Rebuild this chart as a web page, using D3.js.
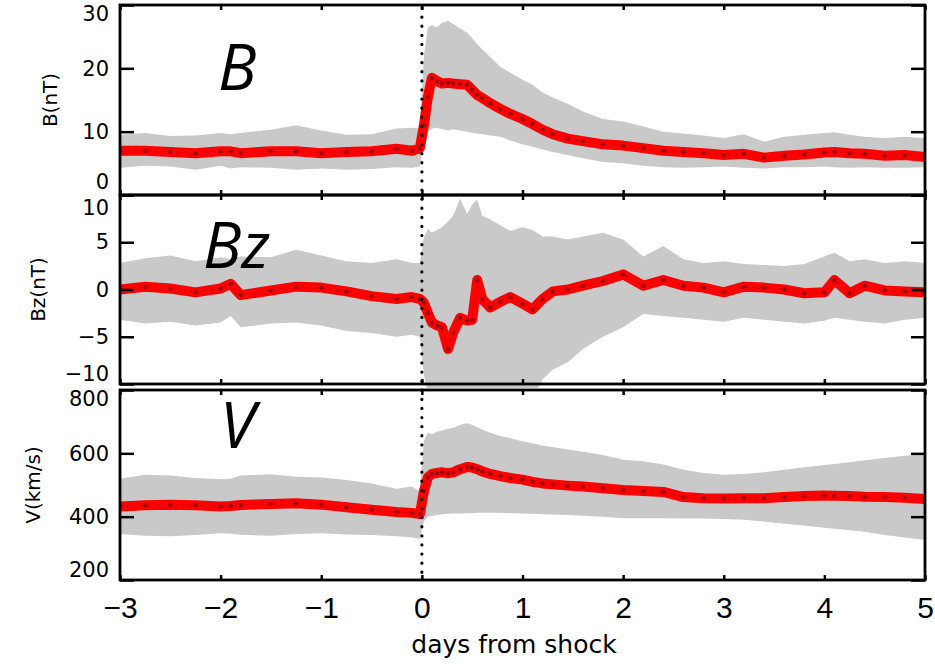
<!DOCTYPE html>
<html>
<head>
<meta charset="utf-8">
<script src="https://cdn.jsdelivr.net/npm/d3@7"></script>
<style>
  body { margin: 0; background: #fff; }
  .ylab text { font-family: 'DejaVu Sans', sans-serif; font-size: 21px; fill: #000; }
  .xlab text { font-family: 'Liberation Sans', Arial, sans-serif; font-size: 30px; fill: #000; }
  .tick line { stroke: #000; stroke-width: 2.5; }
</style>
</head>
<body>
<div class="chart"></div>
<script>
const width = 935;
const height = 664;

// days from shock (sampled denser around the shock)
const days = [-3, -2.75, -2.5, -2.25, -2, -1.9, -1.8, -1.5, -1.25, -1, -0.75, -0.5, -0.25, -0.1, -0.02,
  0.02, 0.06, 0.1, 0.15, 0.2, 0.26, 0.31, 0.38, 0.45, 0.5, 0.55, 0.6, 0.68, 0.78, 0.88,
  1.0, 1.1, 1.2, 1.3, 1.45, 1.6, 1.8, 2.0, 2.2, 2.4, 2.6, 2.8, 3.0, 3.2, 3.4, 3.6, 3.8,
  4.0, 4.1, 4.25, 4.4, 4.6, 4.8, 5.0];

// B (nT)
const bMean = [7.0, 7.0, 6.8, 6.6, 6.9, 6.9, 6.6, 6.9, 6.9, 6.6, 6.8, 6.9, 7.3, 7.0, 7.4,
  11.0, 15.5, 18.5, 18.0, 17.6, 17.7, 17.6, 17.5, 17.4, 16.6, 15.8, 15.3, 14.5, 13.6, 12.8,
  12.0, 11.2, 10.3, 9.6, 8.9, 8.5, 8.0, 7.8, 7.4, 7.0, 6.8, 6.6, 6.3, 6.5, 5.9, 6.2, 6.4,
  6.7, 6.8, 6.6, 6.5, 6.2, 6.3, 6.0];
const bHi = [9.5, 9.8, 9.3, 9.4, 9.8, 9.6, 9.8, 10.3, 11.0, 10.2, 9.5, 9.6, 10.5, 10.6, 10.5,
  22.0, 26.5, 26.8, 26.5, 27.2, 27.5, 27.0, 26.3, 25.6, 24.8, 23.8, 23.0, 21.8, 20.2, 19.3,
  18.2, 17.4, 16.2, 15.4, 14.4, 13.2, 12.0, 11.6, 10.8, 10.0, 9.7, 9.4, 9.0, 9.6, 8.4, 9.2, 9.5,
  9.8, 9.9, 9.5, 9.2, 9.0, 9.2, 9.0];
const bLo = [4.3, 4.6, 4.5, 4.0, 4.6, 4.2, 4.4, 4.3, 4.0, 4.2, 4.0, 4.1, 4.4, 4.3, 4.5,
  9.0, 10.0, 10.5, 10.6, 10.4, 10.2, 10.4, 10.2, 10.0, 9.8, 9.7, 9.6, 9.4, 9.2, 8.6,
  8.0, 7.6, 7.2, 6.8, 6.3, 5.8, 5.2, 5.0, 4.6, 4.4, 4.3, 4.4, 4.5, 4.3, 4.2, 4.4, 4.4,
  4.5, 4.4, 4.3, 4.4, 4.3, 4.3, 4.4];

// Bz (nT)
const bzMean = [0.0, 0.3, 0.1, -0.3, 0.1, 0.6, -0.6, -0.1, 0.3, 0.2, -0.2, -0.7, -1.0, -0.8, -1.0,
  -1.4, -2.5, -3.5, -3.8, -4.0, -6.3, -4.6, -3.0, -3.3, -3.2, 1.0, -1.0, -1.9, -1.3, -0.8,
  -1.5, -2.1, -1.0, -0.2, 0.0, 0.4, 0.9, 1.6, 0.4, 1.0, 0.4, 0.2, -0.3, 0.3, 0.2, 0.0, -0.4,
  -0.3, 1.0, -0.4, 0.4, -0.1, -0.2, -0.3];
const bzHi = [2.8, 3.3, 3.6, 3.0, 3.4, 3.2, 3.5, 3.4, 4.2, 3.6, 3.0, 2.8, 3.2, 2.8, 2.8,
  5.5, 6.4, 6.0, 6.3, 6.6, 7.2, 7.8, 9.6, 8.0, 9.0, 9.5, 7.8, 7.4, 6.8, 6.2,
  6.6, 6.3, 5.6, 5.6, 5.3, 5.6, 6.0, 5.3, 3.5, 4.6, 3.2, 2.8, 3.0, 2.7, 2.6, 2.5, 2.7,
  3.5, 3.9, 3.0, 3.2, 2.8, 3.0, 2.8];
const bzLo = [-3.2, -3.6, -3.4, -3.8, -3.5, -2.8, -4.0, -3.6, -3.5, -3.8, -4.4, -4.6, -5.0, -4.8, -5.0,
  -9.0, -11.0, -12.0, -12.0, -12.0, -12.0, -12.0, -12.0, -12.0, -12.0, -12.0, -12.0, -12.0, -12.0, -12.0,
  -12.0, -11.5, -9.5, -8.5, -7.7, -6.3, -5.0, -4.0, -2.6, -2.8, -3.0, -3.2, -3.4, -3.0, -3.2, -3.4, -3.6,
  -3.3, -3.0, -3.2, -3.4, -3.6, -3.2, -3.0];

// V (km/s)
const vMean = [432, 436, 438, 436, 432, 434, 437, 440, 442, 438, 430, 422, 415, 412, 408,
  480, 525, 535, 538, 540, 537, 540, 550, 557, 555, 550, 543, 535, 528, 522,
  517, 510, 505, 502, 498, 495, 490, 484, 481, 478, 462, 458, 457, 458, 458, 462, 465,
  467, 466, 465, 463, 462, 460, 456];
const vHi = [520, 532, 530, 522, 518, 520, 530, 534, 526, 524, 516, 505, 488, 495, 480,
  640, 665, 660, 668, 672, 678, 680, 690, 695, 690, 682, 675, 665, 655, 648,
  638, 632, 625, 620, 612, 605, 595, 580, 575, 565, 548, 538, 532, 535, 540, 548, 556,
  563, 566, 572, 578, 585, 592, 598];
const vLo = [345, 340, 338, 342, 348, 346, 343, 340, 345, 348, 344, 342, 338, 334, 330,
  385, 400, 402, 405, 408, 409, 410, 410, 411, 411, 412, 412, 412, 412, 411,
  410, 409, 408, 407, 405, 403, 400, 395, 395, 395, 394, 394, 393, 390, 385, 378, 372,
  365, 362, 357, 352, 342, 334, 326];

// tick labels
const dayTicks = [-3, -2, -1, 0, 1, 2, 3, 4, 5];
const bTicks = [0, 10, 20, 30];
const bzTicks = [-10, -5, 0, 5, 10];
const vTicks = [200, 400, 600, 800];

const svg = d3.select('.chart').append('svg')
    .attr('width', width)
    .attr('height', height)
    .attr('viewBox', `0 0 ${width} ${height}`);

const xScale = d3.scaleLinear().domain([-3, 5]).range([120, 925]);

// topDy / botDy: shift of the end labels so they sit inside their panel
const panels = [
  { id: 'b', title: 'B(nT)', tag: 'B', mean: bMean, hi: bHi, lo: bLo, ticks: bTicks,
    domain: [0, 30], top: 5, bottom: 195, titleX: 50, tagX: 218, tagY: 90, topDy: 0.76, botDy: -0.3 },
  { id: 'bz', title: 'Bz(nT)', tag: 'Bz', mean: bzMean, hi: bzHi, lo: bzLo, ticks: bzTicks,
    domain: [-10, 10], top: 195, bottom: 384, titleX: 38, tagX: 203, tagY: 268, topDy: 0.92, botDy: -0.16 },
  { id: 'v', title: 'V(km/s)', tag: 'V', mean: vMean, hi: vHi, lo: vLo, ticks: vTicks,
    domain: [200, 800], top: 390, bottom: 580, titleX: 33, tagX: 220, tagY: 448, topDy: 0.76, botDy: -0.16 }
];

panels.forEach((p, n) => {
  const yScale = d3.scaleLinear().domain(p.domain).range([p.bottom, p.top]);
  const x0 = xScale.range()[0], x1 = xScale.range()[1];

  /* clip so the band stays in the panel */
  svg.append('clipPath').attr('id', 'clip-' + p.id)
    .append('rect')
    .attr('x', x0).attr('y', p.top)
    .attr('width', x1 - x0)
    .attr('height', p.bottom - p.top + (p.id === 'bz' ? 4 : 0));

  const g = svg.append('g').attr('clip-path', `url(#clip-${p.id})`);

  /* gray spread band */
  const area = d3.area()
    .x((d, i) => xScale(days[i]))
    .y0((d, i) => yScale(p.lo[i]))
    .y1((d, i) => yScale(p.hi[i]));
  g.append('path')
    .datum(days)
    .attr('d', area)
    .attr('fill', '#c9c9c9');

  /* red mean curve */
  const line = d3.line()
    .x((d, i) => xScale(days[i]))
    .y(d => yScale(d));
  g.append('path')
    .datum(p.mean)
    .attr('d', line)
    .attr('fill', 'none')
    .attr('stroke', '#f00')
    .attr('stroke-width', 10)
    .attr('stroke-linejoin', 'round');
  g.append('path')
    .datum(p.mean)
    .attr('d', line)
    .attr('fill', 'none')
    .attr('stroke', '#c80000')
    .attr('stroke-width', 1.2)
    .attr('stroke-dasharray', '2,5');
  g.selectAll('.marker')
    .data(p.mean)
    .enter()
    .append('circle')
    .attr('cx', (d, i) => xScale(days[i]))
    .attr('cy', d => yScale(d))
    .attr('r', 2.2)
    .attr('fill', '#a00000');

  /* left axis with labels, end labels pulled inside the panel */
  const ya = svg.append('g')
    .attr('class', 'ylab')
    .attr('transform', `translate(${x0},0)`)
    .call(d3.axisLeft(yScale).tickValues(p.ticks).tickSize(-14).tickPadding(11).tickFormat(d3.format('d')));
  ya.select('.domain').remove();
  ya.selectAll('.tick text')
    .attr('dy', d => d === p.domain[1] ? p.topDy + 'em' : d === p.domain[0] ? p.botDy + 'em' : '0.32em');

  /* right axis, ticks only */
  const yr = svg.append('g')
    .attr('transform', `translate(${x1},0)`)
    .call(d3.axisRight(yScale).tickValues(p.ticks).tickSize(-14).tickFormat(''));
  yr.select('.domain').remove();

  /* small day ticks on top and bottom of each panel */
  const xt = svg.append('g')
    .attr('transform', `translate(0,${p.top})`)
    .call(d3.axisTop(xScale).tickValues(dayTicks).tickSize(-5).tickFormat(''));
  xt.select('.domain').remove();
  const xb = svg.append('g')
    .attr('class', 'xlab')
    .attr('transform', `translate(0,${p.bottom})`)
    .call(d3.axisBottom(xScale).tickValues(dayTicks).tickSize(-5).tickPadding(17)
      .tickFormat(n === panels.length - 1 ? d3.format('d') : ''));
  xb.select('.domain').remove();

  /* panel frame */
  svg.append('rect')
    .attr('x', x0).attr('y', p.top)
    .attr('width', x1 - x0).attr('height', p.bottom - p.top)
    .attr('fill', 'none')
    .attr('stroke', '#000')
    .attr('stroke-width', 2.8);

  /* axis title */
  svg.append('text')
    .attr('transform', `translate(${p.titleX},${(p.top + p.bottom) / 2}) rotate(-90)`)
    .attr('text-anchor', 'middle')
    .attr('dy', '0.35em')
    .style('font-family', "'DejaVu Sans', sans-serif")
    .style('font-size', '20px')
    .text(p.title);

  /* big italic panel tag */
  svg.append('text')
    .attr('x', p.tagX)
    .attr('y', p.tagY)
    .style('font-family', "'Open Sans', 'Noto Sans', sans-serif")
    .style('font-style', 'italic')
    .style('font-size', '64px')
    .text(p.tag);
});

/* dotted shock line */
svg.append('line')
  .attr('x1', xScale(0)).attr('x2', xScale(0))
  .attr('y1', 8).attr('y2', 578)
  .attr('stroke', '#000')
  .attr('stroke-width', 3.2)
  .attr('stroke-linecap', 'round')
  .attr('stroke-dasharray', '0.1,9');

/* x axis title */
svg.append('text')
  .attr('x', 514)
  .attr('y', 653)
  .attr('text-anchor', 'middle')
  .style('font-family', "'DejaVu Sans', sans-serif")
  .style('font-size', '25px')
  .text('days from shock');
</script>
</body>
</html>
